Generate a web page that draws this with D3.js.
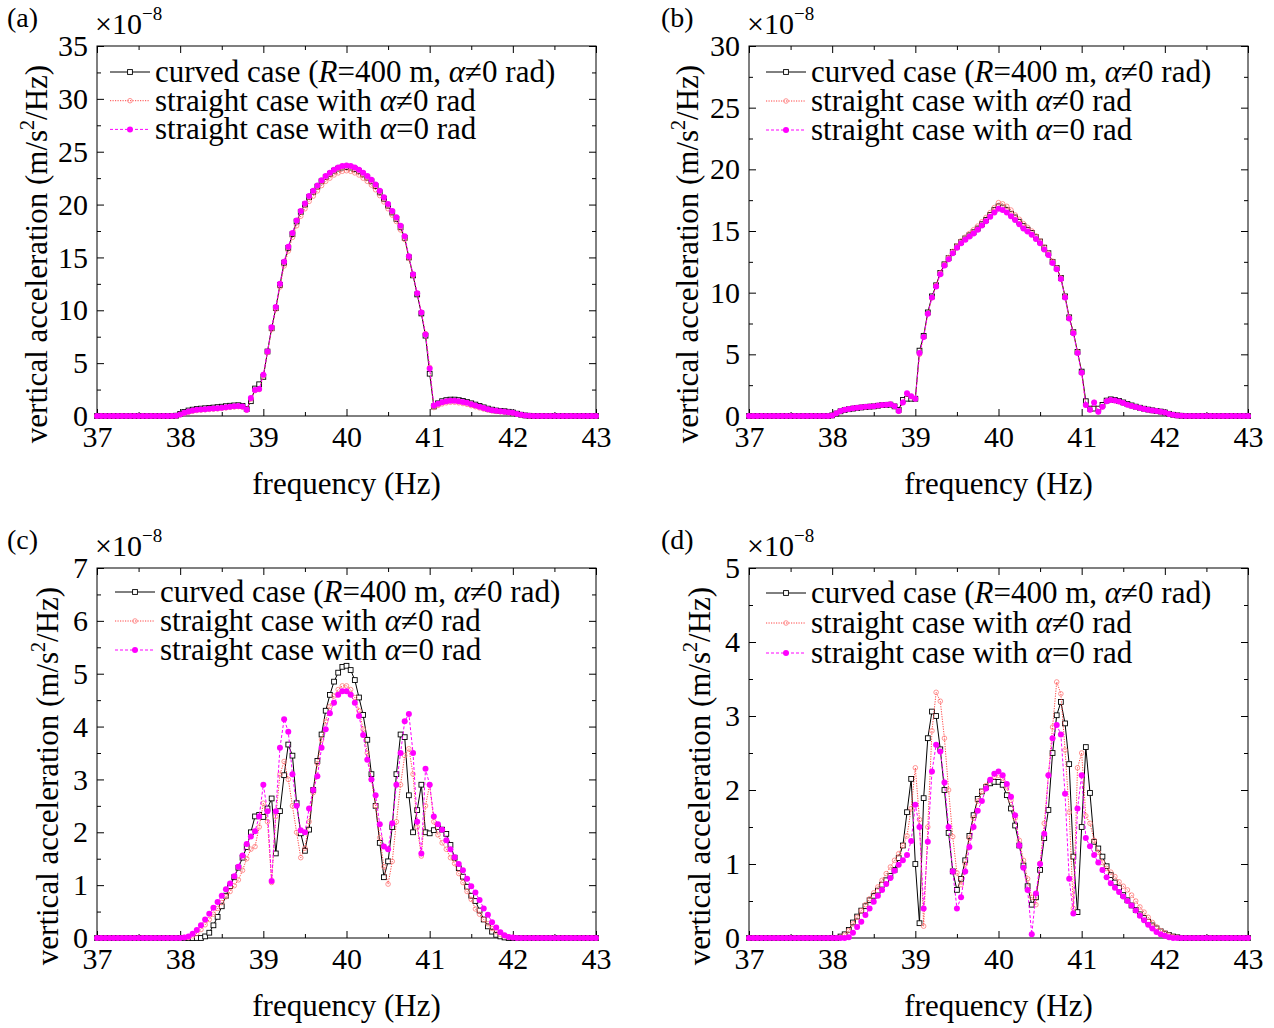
<!DOCTYPE html>
<html>
<head>
<meta charset="utf-8">
<script src="https://cdn.jsdelivr.net/npm/d3@7"></script>
<style>
  body { margin: 0; background: #fff; }
  svg text { font-family: "Liberation Serif", "Times New Roman", serif; }
</style>
</head>
<body>
<div class="figure"></div>
<script>

// frequency grid: 37 .. 43 Hz, 0.05 Hz apart (121 samples)
var freqStart = 37, freqStep = 0.05, freqCount = 121;
var xTicks = [37, 38, 39, 40, 41, 42, 43];

var yTicksA = [0, 5, 10, 15, 20, 25, 30, 35];
var yTicksB = [0, 5, 10, 15, 20, 25, 30];
var yTicksC = [0, 1, 2, 3, 4, 5, 6, 7];
var yTicksD = [0, 1, 2, 3, 4, 5];

var legendNames = ["curved", "straightAlpha", "straightZero"];

// values are x10^-8 m/s^2/Hz, one line per 1 Hz (37.00-37.95, 38.00-38.95, ...), last value 43.00
var aCurved = [
  0,0,0,0,0, 0,0,0,0,0, 0,0,0,0,0, 0,0,0,0,0.03,
  0.2,0.38,0.52,0.6,0.66, 0.7,0.73,0.76,0.8,0.84, 0.88,0.93,0.97,1.0,1.02, 0.95,0.65,1.4,2.6,3.0,
  3.7,6.1,8.3,10.2,12.4, 14.5,15.9,17.2,18.4,19.3, 20.0,20.7,21.2,21.7,22.2, 22.6,22.9,23.2,23.4,23.5,
  23.55,23.5,23.35,23.15,22.85, 22.55,22.2,21.75,21.15,20.55, 19.9,19.25,18.65,17.85,16.85, 15.0,13.3,11.5,9.7,7.6,
  4.0,0.9,1.2,1.4,1.5, 1.55,1.55,1.5,1.42,1.32, 1.2,1.08,0.95,0.82,0.7, 0.6,0.52,0.48,0.45,0.4,
  0.33,0.22,0.12,0.05,0.02, 0,0,0,0,0, 0,0,0,0,0, 0,0,0,0,0,
  0
];
var aStraightAlpha = [
  0,0,0,0,0, 0,0,0,0,0, 0,0,0,0,0, 0,0,0,0,0.02,
  0.12,0.25,0.36,0.45,0.52, 0.56,0.59,0.62,0.65,0.68, 0.72,0.77,0.82,0.86,0.89, 0.84,0.55,1.6,2.4,2.5,
  3.8,6.0,8.2,10.1,12.2, 14.2,15.6,16.9,18.0,18.9, 19.6,20.3,20.8,21.3,21.8, 22.2,22.5,22.8,23.0,23.15,
  23.2,23.15,23.0,22.8,22.5, 22.2,21.85,21.4,20.85,20.25, 19.6,19.0,18.4,17.6,16.7, 14.9,13.3,11.6,9.8,7.8,
  4.6,0.8,1.0,1.15,1.25, 1.3,1.3,1.25,1.18,1.1, 0.98,0.88,0.77,0.66,0.57, 0.49,0.44,0.4,0.36,0.31,
  0.26,0.18,0.1,0.04,0.01, 0,0,0,0,0, 0,0,0,0,0, 0,0,0,0,0,
  0
];
var aStraightZero = [
  0,0,0,0,0, 0,0,0,0,0, 0,0,0,0,0, 0,0,0,0,0.03,
  0.15,0.3,0.42,0.52,0.58, 0.62,0.65,0.68,0.71,0.74, 0.78,0.83,0.88,0.92,0.95, 0.9,0.6,1.7,2.45,2.55,
  3.9,6.1,8.4,10.3,12.5, 14.6,16.0,17.3,18.5,19.4, 20.1,20.8,21.3,21.8,22.3, 22.7,23.0,23.3,23.5,23.65,
  23.7,23.65,23.5,23.3,23.0, 22.7,22.35,21.9,21.3,20.7, 20.05,19.4,18.8,18.0,17.0, 15.1,13.4,11.6,9.8,7.7,
  4.5,1.0,1.15,1.3,1.4, 1.45,1.45,1.4,1.33,1.25, 1.1,1.0,0.88,0.75,0.65, 0.55,0.5,0.45,0.4,0.35,
  0.3,0.2,0.12,0.05,0.02, 0,0,0,0,0, 0,0,0,0,0, 0,0,0,0,0,
  0
];

var bCurved = [
  0,0,0,0,0, 0,0,0,0,0, 0,0,0,0,0, 0,0,0,0,0,
  0.05,0.2,0.38,0.48,0.55, 0.6,0.65,0.69,0.73,0.76, 0.78,0.83,0.88,0.9,0.92, 0.78,0.5,1.3,1.4,1.4,
  1.4,5.3,6.5,8.4,9.7, 10.6,11.6,12.3,12.8,13.3, 13.75,14.1,14.4,14.65,14.9, 15.2,15.55,15.9,16.3,16.7,
  17.0,16.9,16.7,16.4,16.1, 15.75,15.4,15.1,14.85,14.5, 14.15,13.65,13.2,12.5,12.0, 11.2,9.7,8.0,6.8,5.2,
  3.6,1.2,0.6,0.6,0.6, 0.9,1.25,1.35,1.3,1.22, 1.1,0.97,0.86,0.76,0.67, 0.59,0.52,0.46,0.41,0.36,
  0.29,0.18,0.1,0.05,0.02, 0,0,0,0,0, 0,0,0,0,0, 0,0,0,0,0,
  0
];
var bStraightAlpha = [
  0,0,0,0,0, 0,0,0,0,0, 0,0,0,0,0, 0,0,0,0,0,
  0.05,0.21,0.39,0.49,0.56, 0.61,0.66,0.7,0.74,0.77, 0.79,0.84,0.89,0.91,0.94, 0.79,0.38,1.1,1.8,1.58,
  1.4,5.0,6.4,8.3,9.6, 10.6,11.6,12.3,12.85,13.35, 13.8,14.2,14.5,14.8,15.1, 15.4,15.75,16.1,16.5,16.9,
  17.3,17.2,17.0,16.7,16.3, 15.95,15.6,15.3,15.0,14.6, 14.2,13.7,13.2,12.55,12.0, 11.2,9.7,8.0,6.8,5.2,
  3.5,0.9,0.5,1.1,0.35, 0.75,1.2,1.3,1.25,1.17, 1.05,0.92,0.82,0.72,0.64, 0.56,0.5,0.44,0.4,0.35,
  0.28,0.17,0.1,0.05,0.02, 0,0,0,0,0, 0,0,0,0,0, 0,0,0,0,0,
  0
];
var bStraightZero = [
  0,0,0,0,0, 0,0,0,0,0, 0,0,0,0,0, 0,0,0,0,0,
  0.05,0.22,0.4,0.5,0.57, 0.62,0.67,0.71,0.75,0.78, 0.8,0.85,0.9,0.92,0.95, 0.8,0.4,1.1,1.84,1.6,
  1.4,5.1,6.4,8.3,9.6, 10.5,11.5,12.2,12.7,13.2, 13.65,14.0,14.3,14.55,14.8, 15.1,15.45,15.8,16.15,16.5,
  16.8,16.7,16.5,16.2,15.9, 15.55,15.2,14.95,14.7,14.35, 14.0,13.5,13.05,12.4,11.9, 11.1,9.6,7.9,6.7,5.1,
  3.5,0.9,0.5,1.1,0.35, 0.75,1.2,1.3,1.25,1.17, 1.05,0.92,0.82,0.72,0.64, 0.56,0.5,0.44,0.4,0.35,
  0.28,0.17,0.1,0.05,0.02, 0,0,0,0,0, 0,0,0,0,0, 0,0,0,0,0,
  0
];

var cCurved = [
  0,0,0,0,0, 0,0,0,0,0, 0,0,0,0,0, 0,0,0,0,0,
  0,0,0,0,0, 0,0.03,0.1,0.24,0.4, 0.6,0.8,0.98,1.15,1.33, 1.52,1.72,2.0,2.3,2.33,
  2.29,2.45,2.64,1.6,2.4, 3.08,3.66,3.45,2.55,1.98, 1.65,2.05,2.8,3.35,3.85, 4.3,4.6,4.85,5.02,5.13,
  5.15,5.07,4.88,4.55,4.22, 3.75,3.1,2.5,1.8,1.15, 1.45,2.1,3.1,3.85,3.8, 2.7,2.0,2.42,2.9,2.0,
  1.98,2.04,2.1,2.05,1.97, 1.76,1.52,1.32,1.16,0.97, 0.8,0.7,0.52,0.35,0.22, 0.12,0.06,0.03,0.01,0,
  0,0,0,0,0, 0,0,0,0,0, 0,0,0,0,0, 0,0,0,0,0,
  0
];
var cStraightAlpha = [
  0,0,0,0,0, 0,0,0,0,0, 0,0,0,0,0, 0,0,0,0,0,
  0,0.01,0.01,0.04,0.09, 0.16,0.25,0.35,0.45,0.56, 0.67,0.78,0.88,0.99,1.1, 1.28,1.5,1.68,1.73,2.1,
  2.55,2.2,1.05,2.3,3.1, 3.34,3.0,2.5,2.0,1.52, 1.7,2.2,2.75,3.3,3.75, 4.1,4.38,4.58,4.7,4.77,
  4.77,4.7,4.55,4.3,3.95, 3.5,3.0,2.5,1.9,1.35, 1.02,1.45,2.2,2.9,3.45, 3.58,3.1,2.1,1.55,2.5,
  2.9,2.2,1.95,1.8,1.68, 1.52,1.41,1.22,1.05,0.88, 0.73,0.55,0.45,0.35,0.27, 0.18,0.12,0.07,0.04,0.02,
  0.01,0,0,0,0, 0,0,0,0,0, 0,0,0,0,0, 0,0,0,0,0,
  0
];
var cStraightZero = [
  0,0,0,0,0, 0,0,0,0,0, 0,0,0,0,0, 0,0,0,0,0,
  0,0.01,0.03,0.08,0.15, 0.24,0.35,0.46,0.57,0.68, 0.8,0.92,1.03,1.17,1.35, 1.56,1.78,1.92,2.02,2.3,
  2.9,2.4,1.08,2.4,3.6, 4.14,3.9,3.1,2.5,2.04, 2.0,2.45,2.8,3.06,3.6, 3.95,4.25,4.45,4.6,4.67,
  4.67,4.6,4.45,4.2,3.84, 3.37,3.0,2.7,2.15,1.73, 1.68,2.17,2.9,3.5,4.1, 4.24,3.5,2.2,1.6,3.2,
  2.9,2.3,2.15,2.05,1.85, 1.68,1.53,1.4,1.28,1.12, 0.98,0.86,0.72,0.56,0.44, 0.3,0.2,0.11,0.05,0.02,
  0.01,0,0,0,0, 0,0,0,0,0, 0,0,0,0,0, 0,0,0,0,0,
  0
];

var dCurved = [
  0,0,0,0,0, 0,0,0,0,0, 0,0,0,0,0, 0,0,0,0,0,
  0,0,0.02,0.05,0.11, 0.21,0.29,0.37,0.43,0.51, 0.57,0.64,0.72,0.78,0.84, 0.92,1.08,1.25,1.7,2.15,
  1.0,0.2,1.89,2.7,3.06, 3.0,2.55,2.0,1.42,0.9, 0.65,0.8,1.05,1.38,1.66, 1.88,1.98,2.04,2.09,2.11,
  2.11,2.07,1.93,1.75,1.52, 1.25,0.98,0.7,0.45,0.55, 0.92,1.35,1.73,2.5,3.01, 3.19,2.9,2.35,1.1,0.35,
  1.5,2.58,1.96,1.3,1.21, 1.1,0.97,0.85,0.75,0.68, 0.58,0.51,0.44,0.38,0.32, 0.27,0.22,0.17,0.13,0.09,
  0.06,0.04,0.02,0.01,0, 0,0,0,0,0, 0,0,0,0,0, 0,0,0,0,0,
  0
];
var dStraightAlpha = [
  0,0,0,0,0, 0,0,0,0,0, 0,0,0,0,0, 0,0,0,0,0,
  0,0,0.01,0.04,0.1, 0.19,0.28,0.37,0.45,0.53, 0.61,0.69,0.78,0.87,0.96, 1.05,1.14,1.25,1.38,1.75,
  2.3,1.6,0.16,1.5,2.8, 3.32,3.2,2.7,2.0,1.37, 0.88,0.72,1.0,1.35,1.62, 1.85,1.98,2.06,2.13,2.18,
  2.2,2.16,2.04,1.86,1.62, 1.32,1.05,0.8,0.55,0.45, 1.01,1.55,2.2,2.85,3.46, 3.3,2.54,1.7,0.4,2.3,
  2.5,1.65,1.55,1.32,1.16, 1.02,0.94,0.89,0.83,0.76, 0.7,0.65,0.58,0.5,0.42, 0.35,0.28,0.21,0.15,0.1,
  0.07,0.04,0.02,0.01,0, 0,0,0,0,0, 0,0,0,0,0, 0,0,0,0,0,
  0
];
var dStraightZero = [
  0,0,0,0,0, 0,0,0,0,0, 0,0,0,0,0, 0,0,0,0,0,
  0,0,0,0,0.01, 0.07,0.15,0.22,0.31,0.4, 0.49,0.57,0.65,0.73,0.81, 0.91,0.99,1.05,1.12,1.31,
  1.8,1.5,0.4,1.3,2.25, 2.61,2.52,2.1,1.5,0.9, 0.4,0.55,0.9,1.23,1.5, 1.72,1.85,2.02,2.14,2.22,
  2.25,2.2,2.08,1.91,1.66, 1.25,0.95,0.65,0.05,0.6, 1.0,1.41,2.2,2.7,2.88, 2.75,1.95,0.8,0.33,1.75,
  2.2,1.35,1.24,1.12,1.02, 0.92,0.82,0.74,0.68,0.62, 0.56,0.5,0.44,0.37,0.3, 0.24,0.18,0.13,0.08,0.05,
  0.03,0.01,0,0,0, 0,0,0,0,0, 0,0,0,0,0, 0,0,0,0,0,
  0
];


var width = 1274, height = 1028;
var plotW = 499, plotH = 370;

var freq = d3.range(freqCount).map(function(i) { return freqStart + i * freqStep; });

var panels = [
  { name: "(a)", series: [aCurved, aStraightAlpha, aStraightZero], yMax: 35, yTicks: yTicksA,
    left: 97, top: 46, nameX: 7, yLabelX: 47, legX: 110, legY: 72, legGap: 28.7 },
  { name: "(b)", series: [bCurved, bStraightAlpha, bStraightZero], yMax: 30, yTicks: yTicksB,
    left: 749, top: 46, nameX: 661, yLabelX: 698, legX: 766, legY: 72, legGap: 29 },
  { name: "(c)", series: [cCurved, cStraightAlpha, cStraightZero], yMax: 7, yTicks: yTicksC,
    left: 97, top: 568, nameX: 7, yLabelX: 58, legX: 115, legY: 592, legGap: 29 },
  { name: "(d)", series: [dCurved, dStraightAlpha, dStraightZero], yMax: 5, yTicks: yTicksD,
    left: 749, top: 568, nameX: 661, yLabelX: 710, legX: 766, legY: 593, legGap: 30 }
];

var styles = {
  curved:        { line: "#000",    width: 1,   dash: null,      marker: "square" },
  straightAlpha: { line: "#ff3030", width: 0.9, dash: "1.2,1.3", marker: "circle" },
  straightZero:  { line: "#ff00ff", width: 1,   dash: "3,2",     marker: "dot" }
};

var svg = d3.select(".figure")
  .append("svg")
  .attr("width", width)
  .attr("height", height);

function marker(g, kind, cx, cy) {
  if (kind === "square") {
    g.append("rect")
      .attr("x", cx - 2.4).attr("y", cy - 2.4)
      .attr("width", 4.8).attr("height", 4.8)
      .attr("fill", "#fff").attr("stroke", "#000").attr("stroke-width", 0.9);
  } else if (kind === "circle") {
    g.append("circle")
      .attr("cx", cx).attr("cy", cy).attr("r", 2.3)
      .attr("fill", "none").attr("stroke", "#ff7a7a").attr("stroke-width", 0.8);
  } else {
    g.append("circle")
      .attr("cx", cx).attr("cy", cy).attr("r", 3)
      .attr("fill", "#ff00ff");
  }
}

function styleAxis(sel, showText) {
  sel.select(".domain").remove();
  sel.selectAll("line").attr("stroke", "#000");
  sel.attr("font-family", null).attr("font-size", 30);
  if (!showText) sel.selectAll("text").remove();
  sel.selectAll("text").attr("fill", "#000");
}

function drawPanel(p) {
  var x = d3.scaleLinear().domain([37, 43]).range([p.left, p.left + plotW]);
  var y = d3.scaleLinear().domain([0, p.yMax]).range([p.top + plotH, p.top]);
  var bottom = p.top + plotH, right = p.left + plotW;
  var yStep = p.yTicks[1] - p.yTicks[0];
  var minorX = d3.range(37.5, 43, 1);
  var minorY = p.yTicks.slice(1).map(function(v) { return v - yStep / 2; });

  var g = svg.append("g");

  // axes, ticks pointing inwards on all four sides
  g.append("g").attr("transform", "translate(0," + bottom + ")")
    .call(d3.axisBottom(x).tickValues(xTicks).tickSize(-7).tickPadding(10).tickFormat(d3.format("d")))
    .call(styleAxis, true);
  g.append("g").attr("transform", "translate(0," + bottom + ")")
    .call(d3.axisBottom(x).tickValues(minorX).tickSize(-4))
    .call(styleAxis, false);
  g.append("g").attr("transform", "translate(0," + p.top + ")")
    .call(d3.axisTop(x).tickValues(xTicks).tickSize(-7))
    .call(styleAxis, false);
  g.append("g").attr("transform", "translate(0," + p.top + ")")
    .call(d3.axisTop(x).tickValues(minorX).tickSize(-4))
    .call(styleAxis, false);

  g.append("g").attr("transform", "translate(" + p.left + ",0)")
    .call(d3.axisLeft(y).tickValues(p.yTicks).tickSize(-7).tickPadding(9).tickFormat(d3.format("d")))
    .call(styleAxis, true);
  g.append("g").attr("transform", "translate(" + p.left + ",0)")
    .call(d3.axisLeft(y).tickValues(minorY).tickSize(-4))
    .call(styleAxis, false);
  g.append("g").attr("transform", "translate(" + right + ",0)")
    .call(d3.axisRight(y).tickValues(p.yTicks).tickSize(-7))
    .call(styleAxis, false);
  g.append("g").attr("transform", "translate(" + right + ",0)")
    .call(d3.axisRight(y).tickValues(minorY).tickSize(-4))
    .call(styleAxis, false);

  g.append("rect")
    .attr("x", p.left).attr("y", p.top)
    .attr("width", plotW).attr("height", plotH)
    .attr("fill", "none").attr("stroke", "#000").attr("stroke-width", 1);

  // curves
  var line = d3.line()
    .x(function(d, i) { return x(freq[i]); })
    .y(function(d) { return y(d); });

  p.series.forEach(function(values, k) {
    var st = styles[legendNames[k]];
    var sg = g.append("g");
    sg.append("path")
      .datum(values)
      .attr("d", line)
      .attr("fill", "none")
      .attr("stroke", st.line)
      .attr("stroke-width", st.width)
      .attr("stroke-dasharray", st.dash);
    values.forEach(function(v, i) {
      marker(sg, st.marker, x(freq[i]), y(v));
    });
  });

  // legend
  var leg = g.append("g");
  var legendTexts = [
    [["curved case (", null], ["R", "italic"], ["=400 m, ", null], ["\u03b1", "italic"], ["\u22600 rad)", null]],
    [["straight case with ", null], ["\u03b1", "italic"], ["\u22600 rad", null]],
    [["straight case with ", null], ["\u03b1", "italic"], ["=0 rad", null]]
  ];
  legendNames.forEach(function(name, k) {
    var st = styles[name];
    var ly = p.legY + k * p.legGap;
    leg.append("line")
      .attr("x1", p.legX).attr("x2", p.legX + 40)
      .attr("y1", ly).attr("y2", ly)
      .attr("stroke", st.line).attr("stroke-width", st.width)
      .attr("stroke-dasharray", st.dash);
    marker(leg, st.marker, p.legX + 20, ly);
    var t = leg.append("text")
      .attr("x", p.legX + 45)
      .attr("y", ly + 10)
      .attr("font-size", 31);
    legendTexts[k].forEach(function(part) {
      t.append("tspan").text(part[0]).attr("font-style", part[1]);
    });
  });

  // exponent
  var ex = g.append("text")
    .attr("x", p.left - 2)
    .attr("y", p.top - 12)
    .attr("font-size", 30);
  ex.append("tspan").text("\u00d710");
  ex.append("tspan").text("\u22128").attr("font-size", 19).attr("dy", -14);

  // panel name
  g.append("text")
    .attr("x", p.nameX)
    .attr("y", p.top - 19)
    .attr("font-size", 28)
    .text(p.name);

  // axis titles
  g.append("text")
    .attr("x", p.left + plotW / 2)
    .attr("y", bottom + 78)
    .attr("text-anchor", "middle")
    .attr("font-size", 31)
    .text("frequency (Hz)");

  var yl = g.append("text")
    .attr("transform", "translate(" + p.yLabelX + "," + (p.top + plotH / 2 + 23) + ") rotate(-90)")
    .attr("text-anchor", "middle")
    .attr("font-size", 31);
  yl.append("tspan").text("vertical acceleration (m/s");
  yl.append("tspan").text("2").attr("font-size", 20).attr("dy", -13);
  yl.append("tspan").text("/Hz)").attr("dy", 13);
}

panels.forEach(drawPanel);

</script>
</body>
</html>
